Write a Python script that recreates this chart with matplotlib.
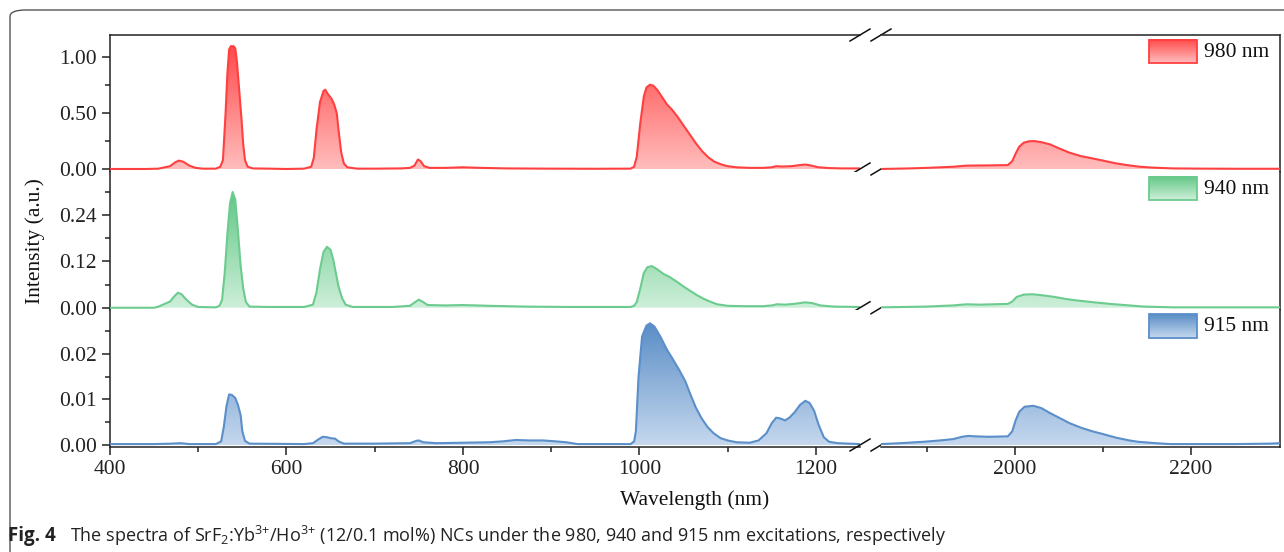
"""Stacked upconversion spectra (980 / 940 / 915 nm excitation) with broken wavelength axis."""
import matplotlib
matplotlib.use("Agg")
import matplotlib.pyplot as plt
import numpy as np
from matplotlib.colors import LinearSegmentedColormap
from matplotlib.patches import FancyBboxPatch, Rectangle
from matplotlib.ticker import MultipleLocator, FormatStrFormatter

plt.rcParams["font.family"] = ["Liberation Serif", "DejaVu Serif"]
plt.rcParams["mathtext.fontset"] = "custom"
plt.rcParams["mathtext.rm"] = "Open Sans"
plt.rcParams["mathtext.default"] = "regular"

# ---------------------------------------------------------------------------
# Data  —  "_a" = 400-1250 nm, "_b" = 1850-2300 nm
# ---------------------------------------------------------------------------
red_wl_a = [400, 440, 455, 462, 468, 474, 478, 483, 490, 497, 505, 520, 525, 528, 531, 533, 535,
            537, 540, 542, 544, 546, 549, 551, 553, 556, 562, 580, 600, 620, 628, 631, 634, 638,
            642, 644, 647, 651, 654, 657, 659, 662, 665, 669, 680, 700, 730, 740, 745, 749, 752,
            756, 762, 780, 800, 820, 850, 900, 950, 990, 994, 997, 1001, 1005, 1008, 1012, 1016,
            1020, 1026, 1031, 1037, 1043, 1050, 1057, 1064, 1071, 1078, 1085, 1093, 1100, 1110,
            1125, 1140, 1150, 1155, 1162, 1172, 1182, 1188, 1195, 1203, 1215, 1230, 1250]
red_int_a = [0, 0, 0.003, 0.015, 0.025, 0.06, 0.075, 0.065, 0.03, 0.01, 0.003, 0.003, 0.02, 0.08,
             0.5, 0.85, 1.07, 1.10, 1.10, 1.08, 0.95, 0.75, 0.45, 0.22, 0.08, 0.02, 0.005, 0.003, 0,
             0.003, 0.02, 0.1, 0.35, 0.6, 0.70, 0.71, 0.67, 0.63, 0.58, 0.5, 0.35, 0.15, 0.05,
             0.015, 0.003, 0.003, 0.005, 0.01, 0.03, 0.085, 0.07, 0.025, 0.01, 0.01, 0.015, 0.01,
             0.005, 0.003, 0.002, 0.003, 0.02, 0.11, 0.41, 0.65, 0.73, 0.755, 0.745, 0.71, 0.64,
             0.58, 0.53, 0.47, 0.39, 0.31, 0.23, 0.16, 0.105, 0.065, 0.04, 0.025, 0.015, 0.01,
             0.01, 0.015, 0.025, 0.022, 0.025, 0.035, 0.04, 0.03, 0.015, 0.008, 0.005, 0.005]
red_wl_b = [1848, 1880, 1900, 1930, 1945, 1970, 1992, 1997, 2001, 2005, 2010, 2016, 2022, 2030,
            2040, 2050, 2062, 2075, 2088, 2100, 2115, 2127, 2142, 2157, 2180, 2214, 2250, 2301]
red_int_b = [0, 0.005, 0.01, 0.02, 0.03, 0.032, 0.035, 0.07, 0.14, 0.2, 0.235, 0.248, 0.25, 0.24,
             0.22, 0.185, 0.146, 0.115, 0.095, 0.075, 0.05, 0.035, 0.02, 0.012, 0.005, 0.003,
             0.002, 0.002]

green_wl_a = [400, 450, 455, 462, 468, 473, 477, 481, 487, 493, 500, 520, 524, 527, 530, 533, 536,
              539, 542, 545, 548, 551, 554, 558, 580, 620, 630, 634, 638, 642, 646, 650, 653, 656,
              659, 663, 667, 675, 720, 740, 746, 750, 754, 760, 780, 800, 830, 870, 920, 990, 994,
              997, 1001, 1005, 1009, 1014, 1020, 1027, 1034, 1042, 1050, 1058, 1065, 1072, 1080,
              1088, 1100, 1120, 1140, 1150, 1156, 1165, 1175, 1188, 1196, 1205, 1220, 1250]
green_int_a = [0, 0, 0.003, 0.01, 0.016, 0.03, 0.039, 0.035, 0.02, 0.008, 0.002, 0.001, 0.005, 0.02,
               0.09, 0.19, 0.27, 0.30, 0.28, 0.2, 0.11, 0.05, 0.015, 0.003, 0.002, 0.002, 0.008,
               0.04, 0.1, 0.145, 0.158, 0.15, 0.125, 0.09, 0.055, 0.025, 0.008, 0.002, 0.002,
               0.005, 0.015, 0.021, 0.016, 0.007, 0.006, 0.007, 0.005, 0.003, 0.002, 0.002, 0.005,
               0.015, 0.05, 0.09, 0.105, 0.108, 0.1, 0.088, 0.08, 0.068, 0.055, 0.043, 0.033,
               0.024, 0.016, 0.009, 0.005, 0.004, 0.004, 0.006, 0.009, 0.008, 0.01, 0.014, 0.012,
               0.006, 0.003, 0.002]
green_wl_b = [1848, 1900, 1930, 1945, 1960, 1992, 1997, 2002, 2010, 2020, 2032, 2045, 2060, 2070,
              2090, 2108, 2130, 2146, 2180, 2301]
green_int_b = [0.001, 0.003, 0.006, 0.009, 0.008, 0.01, 0.016, 0.028, 0.034, 0.035, 0.032, 0.028,
               0.022, 0.019, 0.014, 0.01, 0.006, 0.003, 0.001, 0.001]

blue_wl_a = [400, 450, 470, 480, 490, 520, 526, 529, 532, 535, 538, 542, 545, 548, 550, 553, 558,
             620, 630, 636, 641, 646, 650, 655, 659, 665, 700, 740, 747, 750, 755, 770, 800, 830,
             845, 860, 875, 891, 905, 917, 930, 990, 994, 996, 999, 1003, 1008, 1012, 1017, 1024,
             1031, 1038, 1045, 1052, 1058, 1064, 1070, 1077, 1084, 1092, 1100, 1110, 1125, 1135,
             1144, 1150, 1155, 1160, 1165, 1170, 1176, 1182, 1188, 1193, 1198, 1203, 1209, 1215,
             1225, 1250]
blue_int_a = [0.0002, 0.0002, 0.0003, 0.0004, 0.0002, 0.0002, 0.0008, 0.004, 0.0085, 0.0111,
              0.011, 0.0103, 0.0088, 0.0066, 0.003, 0.0009, 0.0003, 0.0002, 0.0004, 0.0012, 0.0018,
              0.0017, 0.0015, 0.0014, 0.0008, 0.0003, 0.0003, 0.0004, 0.0009, 0.001, 0.0006,
              0.0004, 0.0005, 0.0006, 0.0008, 0.0011, 0.001, 0.001, 0.0008, 0.0006, 0.0002, 0.0002,
              0.0008, 0.003, 0.015, 0.0238, 0.0262, 0.0267, 0.026, 0.0237, 0.021, 0.0188, 0.0165,
              0.014, 0.011, 0.0082, 0.006, 0.004, 0.0026, 0.0015, 0.001, 0.0006, 0.0005, 0.001,
              0.0026, 0.0048, 0.006, 0.0058, 0.0054, 0.006, 0.0072, 0.0088, 0.0097, 0.0092, 0.0075,
              0.0045, 0.0017, 0.0007, 0.0004, 0.0002]
blue_wl_b = [1848, 1870, 1896, 1915, 1930, 1940, 1947, 1955, 1970, 1992, 1997, 2001, 2005, 2011,
             2021, 2030, 2040, 2050, 2062, 2075, 2088, 2100, 2115, 2130, 2140, 2160, 2176, 2250,
             2290, 2301]
blue_int_b = [0.0002, 0.0004, 0.0007, 0.001, 0.0013, 0.0018, 0.002, 0.0019, 0.0018, 0.0019, 0.003,
              0.0055, 0.0073, 0.0084, 0.0086, 0.0081, 0.007, 0.006, 0.0048, 0.0038, 0.003, 0.0024,
              0.0016, 0.001, 0.0007, 0.0004, 0.0002, 0.0002, 0.0003, 0.0004]

labels = ["980 nm", "940 nm", "915 nm"]
line_colors = ["#FF4040", "#6CCB8E", "#5B8FCA"]
fill_top = ["#FF4A4A", "#62C786", "#5A8DC6"]
fill_bot = ["#FFBDBD", "#CDEFD9", "#C5D8EE"]

y_limits = [(-0.030, 1.20), (-0.005, 0.351), (-0.00044, 0.0297)]
y_major = [0.50, 0.12, 0.01]
y_minor = [0.25, 0.06, 0.005]
y_fmt = ["%.2f", "%.2f", "%.2f"]

series = [
    ((red_wl_a, red_int_a), (red_wl_b, red_int_b)),
    ((green_wl_a, green_int_a), (green_wl_b, green_int_b)),
    ((blue_wl_a, blue_int_a), (blue_wl_b, blue_int_b)),
]

W, H = 1284, 552
X_LEFT = (110, 860)
X_RIGHT = (881, 1280)
Y_TOP, Y_BOT = 35, 447
XLIM_A = (400, 1250)
XLIM_B = (1848, 2301)


def fig_box(x0, x1, y0, y1):
    return [x0 / W, 1 - y1 / H, (x1 - x0) / W, (y1 - y0) / H]


def grad_fill(ax, x, y, c_top, c_bot, ymax):
    poly = ax.fill_between(x, y, 0, facecolor="none", lw=0)
    cmap = LinearSegmentedColormap.from_list("g", [c_bot, c_top])
    grad = np.linspace(0, 1, 256).reshape(-1, 1)
    im = ax.imshow(grad, cmap=cmap, aspect="auto", origin="lower",
                   extent=[x[0], x[-1], 0, ymax], zorder=1, interpolation="bilinear")
    im.set_clip_path(poly.get_paths()[0], transform=ax.transData)


fig = plt.figure(figsize=(W / 100, H / 100), dpi=100)

# outer rounded frame of the figure page
fig.patches.append(FancyBboxPatch((10 / W, -0.1), 1.2, 1 - 10 / H + 0.1,
                                  boxstyle="round,pad=0,rounding_size=0.012",
                                  transform=fig.transFigure, fill=False,
                                  edgecolor="#555555", lw=1.0))

row_h = (Y_BOT - Y_TOP) / 3
for i in range(3):
    y0 = Y_TOP + i * row_h
    y1 = y0 + row_h
    ax_a = fig.add_axes(fig_box(*X_LEFT, y0, y1))
    ax_b = fig.add_axes(fig_box(*X_RIGHT, y0, y1))
    ymax_data = max(max(series[i][0][1]), max(series[i][1][1]))

    for ax, (wl, inten), xl in ((ax_a, series[i][0], XLIM_A), (ax_b, series[i][1], XLIM_B)):
        wl = np.asarray(wl, float)
        inten = np.asarray(inten, float)
        grad_fill(ax, wl, inten, fill_top[i], fill_bot[i], ymax_data)
        ax.plot(wl, inten, color=line_colors[i], lw=1.5, zorder=3, solid_joinstyle="round")
        ax.set_xlim(*xl)
        ax.set_ylim(*y_limits[i])
        for s in ax.spines.values():
            s.set_linewidth(1.1)
            s.set_color("#222222")
        ax.spines["top"].set_visible(i == 0)
        ax.spines["bottom"].set_visible(i == 2)
        ax.tick_params(axis="both", which="both", direction="out", labelsize=15.5,
                       colors="#222222")
        ax.tick_params(which="major", length=6, width=1.1)
        ax.tick_params(which="minor", length=3.5, width=1.1)
        if i != 2:
            ax.tick_params(axis="x", which="both", bottom=False, labelbottom=False)

    ax_a.spines["right"].set_visible(False)
    ax_b.spines["left"].set_visible(False)
    ax_b.set_yticks([])
    ax_b.tick_params(axis="y", which="both", left=False, labelleft=False)

    ax_a.yaxis.set_major_locator(MultipleLocator(y_major[i]))
    ax_a.yaxis.set_minor_locator(MultipleLocator(y_minor[i]))
    ax_a.yaxis.set_major_formatter(FormatStrFormatter(y_fmt[i]))
    ax_a.set_ylim(*y_limits[i])

    if i == 2:
        ax_a.xaxis.set_major_locator(MultipleLocator(200))
        ax_a.xaxis.set_minor_locator(MultipleLocator(100))
        ax_b.set_xticks([2000, 2200])
        ax_b.set_xticks([1900, 2100], minor=True)
        ax_a.set_xlim(*XLIM_A)
        ax_b.set_xlim(*XLIM_B)

    # legend swatch with gradient
    ax_b.imshow(np.linspace(0, 1, 64).reshape(-1, 1),
                cmap=LinearSegmentedColormap.from_list("s", [fill_bot[i], fill_top[i]]),
                aspect="auto", origin="lower", extent=[0.672, 0.792, 0.795, 0.965],
                transform=ax_b.transAxes, zorder=4)
    ax_b.add_patch(Rectangle((0.672, 0.795), 0.12, 0.17, transform=ax_b.transAxes,
                             fill=False, edgecolor=line_colors[i], lw=1.3, zorder=5))
    ax_b.text(0.81, 0.875, labels[i], transform=ax_b.transAxes, fontsize=15.5,
              va="center", ha="left", color="#111111")
    ax_b.set_xlim(*XLIM_B)
    ax_b.set_ylim(*y_limits[i])

    # break marks (double slash) at the data baseline and at the top frame
    lo, hi = y_limits[i]
    ys = [(0 - lo) / (hi - lo)]
    if i == 0:
        ys.append(1.0)
    span = X_LEFT[1] - X_LEFT[0]
    for yy in ys:
        for xc in (X_LEFT[1], X_RIGHT[0]):
            xa = (xc - X_LEFT[0]) / span
            ax_a.plot([xa - 10 / span, xa + 10 / span],
                      [yy - 6 / row_h, yy + 6 / row_h],
                      transform=ax_a.transAxes, color="#111111", lw=1.1,
                      clip_on=False, zorder=6)

fig.text(35 / W, 1 - 241 / H, "Intensity (a.u.)", rotation=90, fontsize=15.5,
         ha="center", va="center", color="#111111")
fig.text(695 / W, 1 - 500 / H, "Wavelength (nm)", fontsize=15.5,
         ha="center", va="center", color="#111111")

# caption
fig.text(8 / W, 1 - 536 / H, "Fig. 4", fontsize=13.5, fontweight="bold",
         family="Open Sans", ha="left", va="center", color="#222222")
fig.text(70 / W, 1 - 536 / H,
         "The spectra of SrF$_2$:Yb$^{3{+}}$/Ho$^{3{+}}$ (12/0.1 mol%) NCs under the 980, 940 "
         "and 915 nm excitations, respectively",
         fontsize=13, family="Open Sans", ha="left", va="center", color="#222222")

fig.savefig("out.png", dpi=100)
